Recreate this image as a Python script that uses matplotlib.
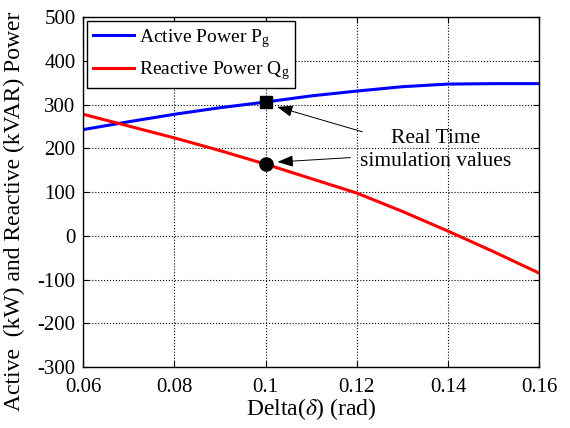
import matplotlib
matplotlib.use("Agg")
import matplotlib.pyplot as plt

plt.rcParams['font.family'] = ['Liberation Serif', 'DejaVu Serif']
plt.rcParams['mathtext.fontset'] = 'stix'
plt.rcParams['axes.unicode_minus'] = False

delta = [0.06, 0.07, 0.08, 0.09, 0.10, 0.11, 0.12, 0.13, 0.14, 0.15, 0.16]
active_power = [243, 261, 278, 293, 306, 320, 331, 341, 347, 348, 348]
reactive_power = [278, 251, 224, 195, 164, 131, 98, 56, 11, -36, -85]

rt_delta = 0.10
rt_active = 307
rt_reactive = 164

x_ticks = [0.06, 0.08, 0.1, 0.12, 0.14, 0.16]
x_tick_labels = ['0.06', '0.08', '0.1', '0.12', '0.14', '0.16']
y_ticks = [-300, -200, -100, 0, 100, 200, 300, 400, 500]

fig = plt.figure(figsize=(5.7, 4.28), dpi=100)
ax = fig.add_axes([0.146, 0.142, 0.800, 0.818])

ax.plot(delta, active_power, color='#0000ff', lw=2.2, label=r'Active Power P$_\mathregular{g}$')
ax.plot(delta, reactive_power, color='#ff0000', lw=2.2, label=r'Reactive Power Q$_\mathregular{g}$')
ax.plot([rt_delta], [rt_active], 's', color='black', ms=9)
ax.plot([rt_delta], [rt_reactive], 'o', color='black', ms=9.5)

ax.set_xlim(0.06, 0.16)
ax.set_ylim(-300, 500)
ax.set_xticks(x_ticks)
ax.set_xticklabels(x_tick_labels)
ax.set_yticks(y_ticks)
ax.tick_params(direction='in', top=True, right=True, labelsize=15, length=4)
ax.tick_params(axis='x', pad=8)
ax.tick_params(axis='y', pad=5.5)
ax.grid(True, color='black', linestyle=':', linewidth=0.8)
for s in ax.spines.values():
    s.set_linewidth(1.0)

ax.set_xlabel(r'Delta($\delta$) (rad)', fontsize=17, labelpad=-1)
ax.set_ylabel('Active  (kW) and Reactive (kVAR) Power', fontsize=17)
ax.yaxis.set_label_coords(-0.128, 0.445)

leg = ax.legend(loc='upper left', fontsize=14, frameon=True, fancybox=False,
                edgecolor='black', framealpha=1, borderpad=0.3, handlelength=2.1,
                handletextpad=0.25, labelspacing=0.5, borderaxespad=0.2)
leg.get_frame().set_linewidth(1.0)

ax.text(0.1372, 196, 'Real Time\nsimulation values', fontsize=15.5, ha='center', va='center',
        linespacing=1.3)
arrow = dict(arrowstyle='-|>,head_length=0.6,head_width=0.22', color='black', lw=0.7,
             mutation_scale=16, shrinkA=0, shrinkB=0)
ax.annotate('', xy=(0.1025, 295), xytext=(0.1212, 238), arrowprops=arrow)
ax.annotate('', xy=(0.1026, 169), xytext=(0.1186, 179), arrowprops=arrow)

fig.savefig('out.png', dpi=100)
